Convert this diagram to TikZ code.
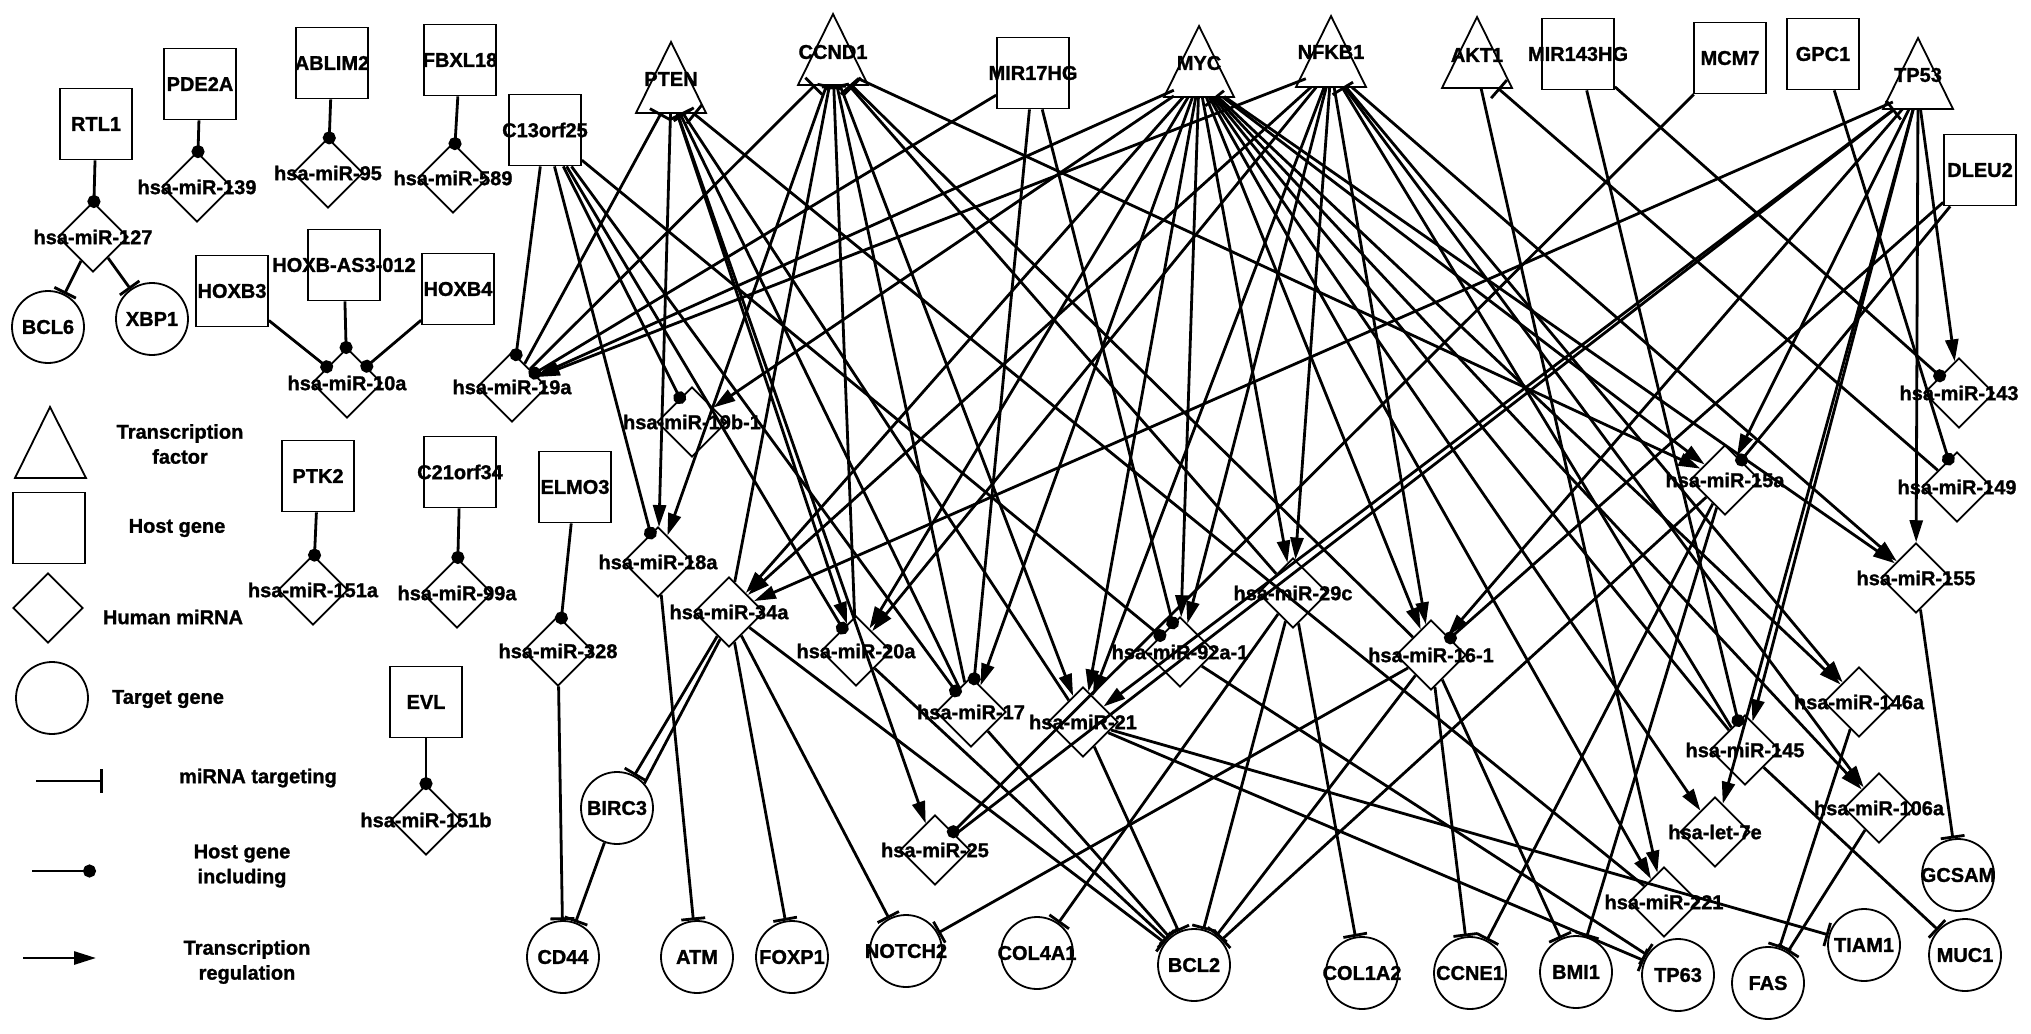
\documentclass[tikz,border=0pt]{standalone}
\usepackage{fontspec}
\setmainfont{Liberation Sans}[BoldFeatures={FakeBold=1.3}]
\usetikzlibrary{arrows.meta,shapes.geometric}
\pgfdeclarelayer{edgelayer}
\pgfsetlayers{edgelayer,main}
\tikzset{
 shp/.style={draw, line width=1.8pt},
 hbox/.style={shp, rectangle, minimum width=72pt, minimum height=71pt, inner sep=0pt},
 mir/.style={shp, diamond, minimum width=70pt, minimum height=70pt, inner sep=0pt},
 tcirc/.style={shp, circle, minimum size=72pt, inner sep=0pt},
 tfanc/.style={rectangle, minimum width=50pt, minimum height=36pt, inner sep=0pt},
 lab/.style={font=\bfseries\fontsize{20}{25}\selectfont, inner sep=0pt, align=center},
 edge/.style={line width=2.8pt},
 hin/.style={edge, -{Circle[length=13pt,width=13pt]}, shorten >=-6pt},
 reg/.style={edge, -{Triangle[length=22pt,width=13pt]}},
 tgt/.style={edge, -{Bar[width=24pt]}},
}
\newcommand{\hgene}[4]{\node[hbox] (#1) at (#2,#3) {}; \node[lab] (#1L) at (#1) {#4};}
\newcommand{\mirna}[4]{\node[mir] (#1) at (#2,#3) {}; \node[lab] (#1L) at (#1) {#4};}
\newcommand{\tgene}[3]{\node[tcirc] (#1) at (#2,#3) {}; \node[lab] (#1L) at (#1) {#1};}
\newcommand{\tfac}[5]{\draw[shp] (#2-35,#4) -- (#2,#3) -- (#2+35,#4) -- cycle; \node[tfanc] (#1) at (#2,#4-18) {}; \node[lab] (#1L) at (#2,#5) {#1};}
\begin{document}
\begin{tikzpicture}[x=1pt,y=-1pt]
\useasboundingbox (0,0) rectangle (2031,1033);
% host genes
\hgene{RTL1}{96}{124}{RTL1}
\hgene{PDE2A}{200}{84}{PDE2A}
\hgene{ABLIM2}{332}{63}{ABLIM2}
\hgene{FBXL18}{460}{60}{FBXL18}
\hgene{HOXB3}{232}{291}{HOXB3}
\hgene{HOXBAS}{344}{265}{HOXB-AS3-012}
\hgene{HOXB4}{458}{289}{HOXB4}
\hgene{PTK2}{318}{476}{PTK2}
\hgene{C21orf34}{460}{472}{C21orf34}
\hgene{C13orf25}{545}{130}{C13orf25}
\hgene{ELMO3}{575}{487}{ELMO3}
\hgene{EVL}{426}{702}{EVL}
\hgene{MIR17HG}{1033}{73}{MIR17HG}
\hgene{MIR143HG}{1578}{54}{MIR143HG}
\hgene{MCM7}{1730}{58}{MCM7}
\hgene{GPC1}{1823}{54}{GPC1}
\hgene{DLEU2}{1980}{170}{DLEU2}
% miRNAs
\mirna{m127}{93}{237}{hsa-miR-127}
\mirna{m139}{197}{187}{hsa-miR-139}
\mirna{m95}{328}{173}{hsa-miR-95}
\mirna{m589}{453}{178}{hsa-miR-589}
\mirna{m10a}{347}{383}{hsa-miR-10a}
\mirna{m19a}{512}{387}{hsa-miR-19a}
\mirna{m19b}{692}{422}{hsa-miR-19b-1}
\mirna{m18a}{658}{562}{hsa-miR-18a}
\mirna{m34a}{729}{612}{hsa-miR-34a}
\mirna{m328}{558}{651}{hsa-miR-328}
\mirna{m151a}{313}{590}{hsa-miR-151a}
\mirna{m99a}{457}{593}{hsa-miR-99a}
\mirna{m151b}{426}{820}{hsa-miR-151b}
\mirna{m20a}{856}{651}{hsa-miR-20a}
\mirna{m17}{971}{712}{hsa-miR-17}
\mirna{m25}{935}{850}{hsa-miR-25}
\mirna{m21}{1083}{722}{hsa-miR-21}
\mirna{m92a}{1180}{652}{hsa-miR-92a-1}
\mirna{m29c}{1293}{593}{hsa-miR-29c}
\mirna{m16}{1431}{655}{hsa-miR-16-1}
\mirna{m15a}{1725}{480}{hsa-miR-15a}
\mirna{m143}{1959}{393}{hsa-miR-143}
\mirna{m149}{1957}{487}{hsa-miR-149}
\mirna{m155}{1916}{578}{hsa-miR-155}
\mirna{m146a}{1859}{702}{hsa-miR-146a}
\mirna{m145}{1745}{750}{hsa-miR-145}
\mirna{m106a}{1879}{808}{hsa-miR-106a}
\mirna{let7e}{1715}{832}{hsa-let-7e}
\mirna{m221}{1664}{902}{hsa-miR-221}
% transcription factors
\tfac{PTEN}{671}{42}{113}{79}
\tfac{CCND1}{833}{14}{85}{52}
\tfac{MYC}{1199}{26}{97}{63}
\tfac{NFKB1}{1331}{16}{87}{52}
\tfac{AKT1}{1477}{17}{88}{55}
\tfac{TP53}{1918}{38}{109}{75}
% target genes
\tgene{BCL6}{48}{327}
\tgene{XBP1}{152}{319}
\tgene{BIRC3}{617}{808}
\tgene{CD44}{563}{957}
\tgene{ATM}{697}{957}
\tgene{FOXP1}{792}{957}
\tgene{NOTCH2}{906}{951}
\tgene{COL4A1}{1037}{953}
\tgene{BCL2}{1194}{965}
\tgene{COL1A2}{1362}{973}
\tgene{CCNE1}{1470}{973}
\tgene{BMI1}{1576}{972}
\tgene{TP63}{1678}{975}
\tgene{FAS}{1768}{983}
\tgene{TIAM1}{1864}{945}
\tgene{MUC1}{1965}{955}
\tgene{GCSAM}{1958}{875}
% legend
\draw[shp] (15,478) -- (50,407) -- (86,478) -- cycle;
\node[hbox] (lgbox) at (49,528) {};
\node[mir] (lgmir) at (48,608) {};
\node[tcirc] (lgcirc) at (52,698) {};
\node[lab] (lgt1) at (180,444) {Transcription\\factor};
\node[lab] (lgt2) at (177,528) {Host gene};
\node[lab] (lgt3) at (173,617) {Human miRNA};
\node[lab] (lgt4) at (168,699) {Target gene};
\node[lab] (lgt5) at (258,778) {miRNA targeting};
\node[lab] (lgt6) at (242,866) {Host gene\\including};
\node[lab] (lgt7) at (247,962) {Transcription\\regulation};
\coordinate (la1) at (36,781); \coordinate (la2) at (103,781);
\coordinate (lb1) at (32,871); \coordinate (lb2) at (96,871);
\coordinate (lc1) at (23,958); \coordinate (lc2) at (96,958);
\begin{pgfonlayer}{edgelayer}
\draw[tgt] (la1) -- (la2);
\draw[edge,-{Circle[length=13pt,width=13pt]}] (lb1) -- (lb2);
\draw[reg] (lc1) -- (lc2);
% host gene including
\foreach \a/\b in {RTL1/m127, PDE2A/m139, ABLIM2/m95, FBXL18/m589, HOXB3/m10a, HOXBAS/m10a, HOXB4/m10a, PTK2/m151a, C21orf34/m99a, EVL/m151b, ELMO3/m328, C13orf25/m19a, C13orf25/m19b, C13orf25/m18a, C13orf25/m20a, C13orf25/m17, C13orf25/m92a, MIR17HG/m92a, MIR17HG/m17, MIR17HG/m19a, MCM7/m25, GPC1/m149, MIR143HG/m143, MIR143HG/m145, DLEU2/m15a, DLEU2/m16}
  \draw[hin] (\a) -- (\b);
% transcription regulation
\foreach \a/\b in {PTEN/m18a, PTEN/m20a, PTEN/m25, CCND1/m18a, CCND1/m21, CCND1/m15a, MYC/m19a, MYC/m19b, MYC/m34a, MYC/m20a, MYC/m17, MYC/m21, MYC/m92a, MYC/m29c, MYC/m16, MYC/m221, MYC/let7e, MYC/m15a, MYC/m155, MYC/m146a, MYC/m106a, NFKB1/m19a, NFKB1/m34a, NFKB1/m20a, NFKB1/m21, NFKB1/m92a, NFKB1/m29c, NFKB1/m16, NFKB1/m106a, NFKB1/m146a, NFKB1/m155, AKT1/m221, TP53/m34a, TP53/m21, TP53/m16, TP53/m15a, TP53/let7e, TP53/m145, TP53/m155, TP53/m143}
  \draw[reg] (\a) -- (\b);
% miRNA targeting
\foreach \a/\b in {m19a/PTEN, m17/PTEN, m21/PTEN, m221/PTEN, m19a/CCND1, m34a/CCND1, m20a/CCND1, m17/CCND1, m29c/CCND1, m16/CCND1, m145/MYC, m145/NFKB1, m149/AKT1, m25/TP53, m127/BCL6, m127/XBP1, m328/CD44, BIRC3/CD44, m18a/ATM, m34a/FOXP1, m34a/NOTCH2, m16/NOTCH2, m29c/COL4A1, m34a/BCL2, m20a/BCL2, m17/BCL2, m21/BCL2, m29c/BCL2, m16/BCL2, m15a/BCL2, m29c/COL1A2, m16/CCNE1, m15a/CCNE1, m16/BMI1, m15a/BMI1, m21/TP63, m92a/TP63, m21/TIAM1, m146a/FAS, m106a/FAS, m145/MUC1, m155/GCSAM}
  \draw[tgt] (\a) -- (\b);
\draw[tgt] (m34a.244) -- (BIRC3.62);
\draw[edge] (m34a.252) -- (BIRC3.42);
\end{pgfonlayer}
\end{tikzpicture}
\end{document}
